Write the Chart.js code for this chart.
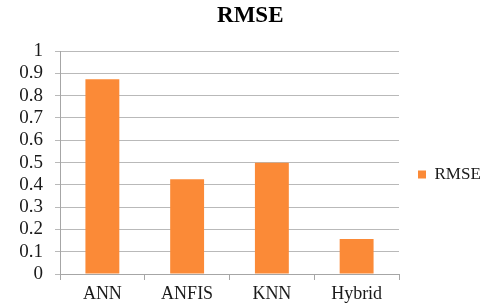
<!DOCTYPE html>
<html>
<head>
<meta charset="utf-8">
<script src="https://cdn.jsdelivr.net/npm/chart.js@4"></script>
<style>
  html, body { margin: 0; padding: 0; background: #ffffff; }
  #wrap { width: 487px; height: 306px; position: relative; }
</style>
</head>
<body>
<div id="wrap"><canvas id="c" width="487" height="306"></canvas></div>
<script>
const categories = ['ANN', 'ANFIS', 'KNN', 'Hybrid'];
const seriesName = 'RMSE';
const rmseValues = [0.874, 0.425, 0.499, 0.157];
const yTickLabels = ['0', '0.1', '0.2', '0.3', '0.4', '0.5', '0.6', '0.7', '0.8', '0.9', '1'];
const chartTitle = 'RMSE';

const FONT = "'Liberation Serif', 'Times New Roman', serif";

new Chart(document.getElementById('c'), {
  type: 'bar',
  data: {
    labels: categories,
    datasets: [{
      label: seriesName,
      data: rmseValues,
      backgroundColor: '#fb8a37',
      borderWidth: 0,
      categoryPercentage: 1.0,
      barPercentage: 0.4
    }]
  },
  options: {
    responsive: false,
    animation: false,
    devicePixelRatio: 1,
    layout: { padding: { left: 20, right: 6.5, top: 0, bottom: 0 } },
    plugins: {
      title: {
        display: true,
        text: chartTitle,
        color: '#000000',
        font: { family: FONT, size: 23, weight: 'bold' },
        padding: { top: 2, bottom: 21.5 }
      },
      legend: {
        display: true,
        position: 'right',
        align: 'start',
        maxWidth: 81.5,
        title: { display: true, text: ' ', font: { size: 10 }, padding: 67.5 },
        labels: {
          boxWidth: 8,
          boxHeight: 8,
          padding: 19,
          color: '#1a1a1a',
          font: { family: FONT, size: 17 }
        }
      },
      tooltip: { enabled: false }
    },
    scales: {
      x: {
        afterFit: (scale) => { scale.height = 32; },
        grid: {
          display: true,
          drawOnChartArea: false,
          drawTicks: true,
          tickLength: 6,
          color: '#a6a6a6',
          offset: true
        },
        border: { display: true, color: '#a6a6a6', width: 1 },
        ticks: {
          color: '#1a1a1a',
          padding: 3,
          font: { family: FONT, size: 18 },
          maxRotation: 0
        }
      },
      y: {
        min: 0,
        max: 1,
        afterFit: (scale) => { scale.width = 40; },
        grid: {
          color: '#b9b9b9',
          tickLength: 5,
          drawTicks: true
        },
        border: { display: true, color: '#a6a6a6', width: 1 },
        ticks: {
          stepSize: 0.1,
          autoSkip: false,
          padding: 12,
          color: '#1a1a1a',
          font: { family: FONT, size: 19 },
          callback: (value, index) => yTickLabels[index]
        }
      }
    }
  }
});
</script>
</body>
</html>
